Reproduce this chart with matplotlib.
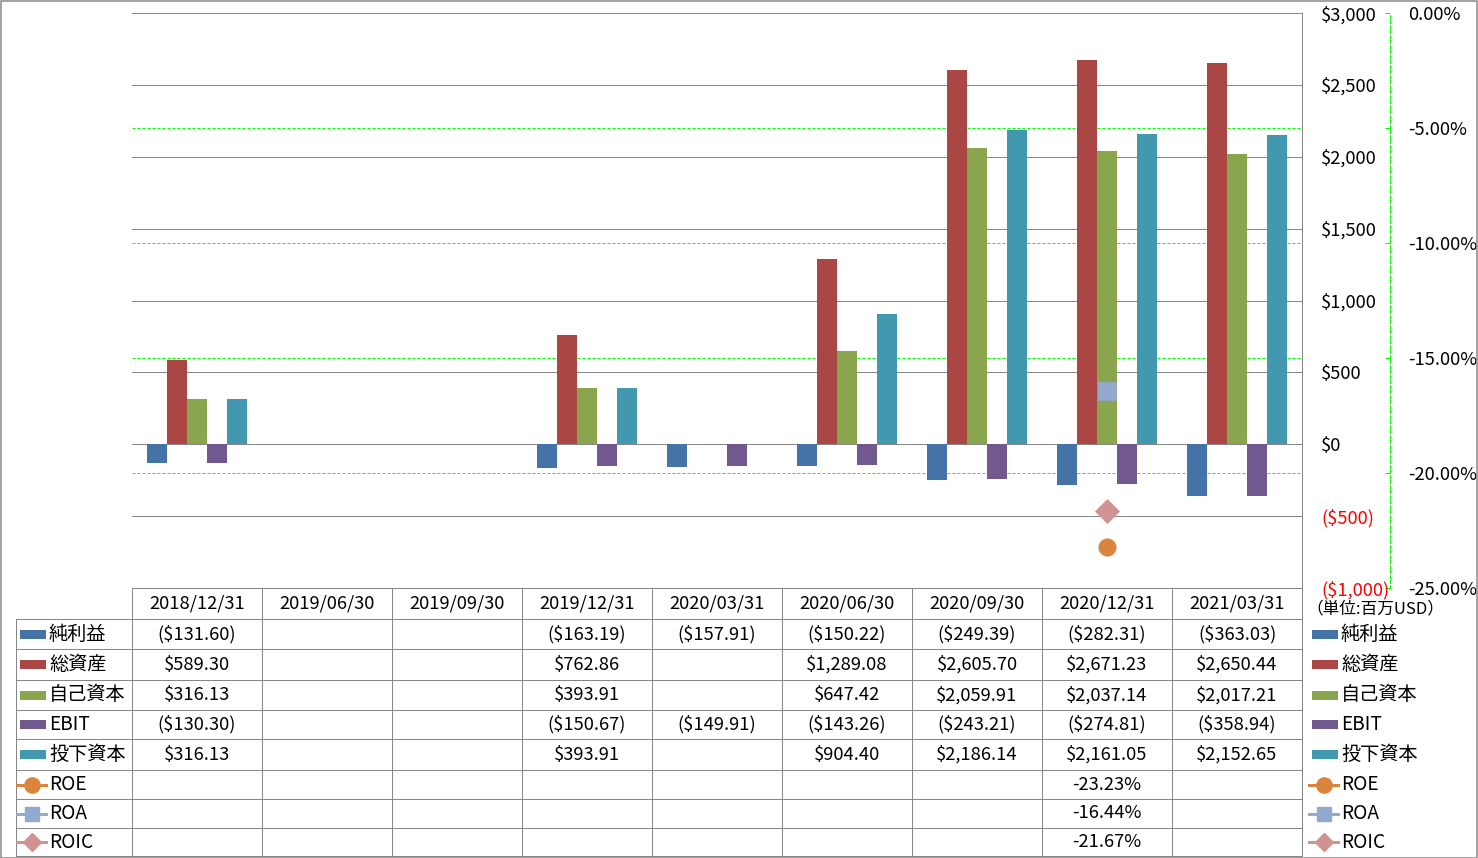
import numpy as np
import matplotlib
matplotlib.use('Agg')
import matplotlib.pyplot as plt
from matplotlib.lines import Line2D
from matplotlib.patches import Rectangle

# ---------------- data ----------------
categories = ['2018/12/31', '2019/06/30', '2019/09/30', '2019/12/31', '2020/03/31',
              '2020/06/30', '2020/09/30', '2020/12/31', '2021/03/31']
bar_names = ['純利益', '総資産', '自己資本', 'EBIT', '投下資本']
net_income = [-131.60, None, None, -163.19, -157.91, -150.22, -249.39, -282.31, -363.03]
total_assets = [589.30, None, None, 762.86, None, 1289.08, 2605.70, 2671.23, 2650.44]
equity = [316.13, None, None, 393.91, None, 647.42, 2059.91, 2037.14, 2017.21]
ebit = [-130.30, None, None, -150.67, -149.91, -143.26, -243.21, -274.81, -358.94]
invested_capital = [316.13, None, None, 393.91, None, 904.40, 2186.14, 2161.05, 2152.65]
ratio_names = ['ROE', 'ROA', 'ROIC']
roe = [None, None, None, None, None, None, None, -23.23, None]
roa = [None, None, None, None, None, None, None, -16.44, None]
roic = [None, None, None, None, None, None, None, -21.67, None]
primary_ticks = [-1000, -500, 0, 500, 1000, 1500, 2000, 2500, 3000]
secondary_ticks = [-25, -20, -15, -10, -5, 0]
unit_label = '（単位:百万USD）'

bar_series = [net_income, total_assets, equity, ebit, invested_capital]
ratio_series = [roe, roa, roic]
bar_colors = ['#4572A7', '#AA4643', '#89A54E', '#71588F', '#4198AF']
ratio_colors = ['#DB843D', '#93A9CF', '#D19392']
ratio_markers = ['o', 's', 'D']
ratio_ms = [12.5, 13, 12.5]

plt.rcParams['font.family'] = ['Noto Sans CJK JP', 'DejaVu Sans']

W, H = 1478, 858
fig = plt.figure(figsize=(W / 100, H / 100), dpi=100)
fig.patch.set_facecolor('white')


def fx(px):
    return px / W


def fy(py):
    return 1 - py / H


def arr(v):
    return np.array([np.nan if a is None else a for a in v], dtype=float)


GRAY = '#868686'
GREEN = '#00ff00'
PX = 0.72  # 1 pixel in points
FS = 13.2

L, R, T, B = 132, 1302, 13, 588
ax = fig.add_axes([fx(L), fy(B), (R - L) / W, (B - T) / H])
ax2 = ax.twinx()
ax.set_zorder(1.5)
ax2.set_zorder(1)
ax.patch.set_visible(False)

n = len(categories)
x = np.arange(n)
bw = 20 / 130
for i, (vals, col) in enumerate(zip(bar_series, bar_colors)):
    ax.bar(x + (i - 2) * bw, arr(vals), width=bw, color=col, linewidth=0, zorder=2)

for vals, col, mk, ms in zip(ratio_series, ratio_colors, ratio_markers, ratio_ms):
    ax.plot(x, arr(vals), linestyle='none', marker=mk, ms=ms, color=col,
            markeredgecolor=col, markeredgewidth=0.5, transform=ax2.transData, zorder=3)

ax.set_xlim(-0.5, n - 0.5)
ax.set_ylim(-1000, 3000)
ax2.set_ylim(-25, 0)
ax.set_xticks([])

# primary axis
ax.yaxis.tick_right()
ax.set_yticks(primary_ticks)
ax.set_yticklabels([('$%s' % format(v, ',')) if v >= 0 else ('($%s)' % format(-v, ','))
                    for v in primary_ticks])
for lab, v in zip(ax.get_yticklabels(), primary_ticks):
    lab.set_color('black' if v >= 0 else '#ff0000')
    lab.set_va('center_baseline')
ax.tick_params(axis='y', length=0, pad=13.7, labelsize=FS)
ax.yaxis.grid(True, color=GRAY, linewidth=PX)
ax.set_axisbelow(True)
for s in ['left', 'top', 'bottom']:
    ax.spines[s].set_visible(False)
ax.spines['right'].set_color(GRAY)
ax.spines['right'].set_linewidth(PX)

# secondary axis
ax2.set_yticks(secondary_ticks)
ax2.set_yticklabels(['%.2f%%' % v for v in secondary_ticks])
for lab, v in zip(ax2.get_yticklabels(), secondary_ticks):
    lab.set_color('black' if v >= 0 else '#ff0000')
    lab.set_va('center_baseline')
ax2.tick_params(axis='y', direction='in', length=3.6, width=PX, color=GREEN, pad=13.0, labelsize=FS)
ax2.yaxis.grid(True, color=GREEN, linewidth=PX, linestyle=(0, (3, 2)))
for s in ['left', 'top', 'bottom']:
    ax2.spines[s].set_visible(False)
ax2.spines['right'].set_position(('outward', 88 * PX))
ax2.spines['right'].set_color(GREEN)
ax2.spines['right'].set_linewidth(PX)
ax2.spines['right'].set_linestyle((0, (3, 2)))

# ---------------- data table ----------------
col_w = 130
row_lines = [619, 649, 680, 710, 739, 770, 799, 828, 856]
header_top = 588
TL = 16


def hline(py, x0, x1):
    fig.add_artist(Line2D([fx(x0), fx(x1)], [fy(py), fy(py)], color=GRAY, lw=PX, zorder=5))


def vline(px, y0, y1):
    fig.add_artist(Line2D([fx(px), fx(px)], [fy(y0), fy(y1)], color=GRAY, lw=PX, zorder=5))


hline(header_top, L, R)
for py in row_lines:
    hline(py, TL, R)
for k in range(n + 1):
    vline(L + k * col_w, header_top, row_lines[-1])
vline(TL, row_lines[0], row_lines[-1])

for k, c in enumerate(categories):
    fig.text(fx(L + k * col_w + col_w / 2), fy((header_top + row_lines[0]) / 2),
             c, ha='center', va='center', fontsize=FS)


def money(v):
    if v is None:
        return ''
    return ('$%s' % format(v, ',.2f')) if v >= 0 else ('($%s)' % format(-v, ',.2f'))


def pct(v):
    return '' if v is None else '%.2f%%' % v


row_centers = [(row_lines[i] + row_lines[i + 1]) / 2 for i in range(len(row_lines) - 1)]
all_rows = [(nm, vals, money) for nm, vals in zip(bar_names, bar_series)] + \
           [(nm, vals, pct) for nm, vals in zip(ratio_names, ratio_series)]
for r, (nm, vals, f) in enumerate(all_rows):
    cy = row_centers[r]
    for k, v in enumerate(vals):
        s = f(v)
        if s:
            fig.text(fx(L + k * col_w + col_w / 2), fy(cy), s, ha='center', va='center', fontsize=FS)


legend_ms = [11, 10.5, 9.5]


def legend_key(r, x0, cy):
    if r < 5:
        fig.add_artist(Rectangle((fx(x0 + 3), fy(cy + 4.5)), 26 / W, 9 / H,
                                 facecolor=bar_colors[r], edgecolor='none', zorder=6))
    else:
        j = r - 5
        fig.add_artist(Line2D([fx(x0), fx(x0 + 29)], [fy(cy), fy(cy)], color=ratio_colors[j],
                              lw=3 * PX, zorder=6))
        fig.add_artist(Line2D([fx(x0 + 15)], [fy(cy)], color=ratio_colors[j], lw=0,
                              marker=ratio_markers[j], ms=legend_ms[j], zorder=7))


names = bar_names + ratio_names
for r, nm in enumerate(names):
    cy = row_centers[r]
    legend_key(r, 17, cy)
    fig.text(fx(49), fy(cy), nm, ha='left', va='center', fontsize=FS + 0.6)
    legend_key(r, 1309, cy)
    fig.text(fx(1341), fy(cy), nm, ha='left', va='center', fontsize=FS + 0.6)

fig.text(fx(1306), fy(609), unit_label, ha='left', va='center', fontsize=12)

# outer border
fig.add_artist(Rectangle((0.5 / W, 0.5 / H), (W - 1.5) / W, (H - 1.5) / H, fill=False,
                         edgecolor=GRAY, lw=PX * 1.5, zorder=10))

fig.savefig('out.png', dpi=100)
